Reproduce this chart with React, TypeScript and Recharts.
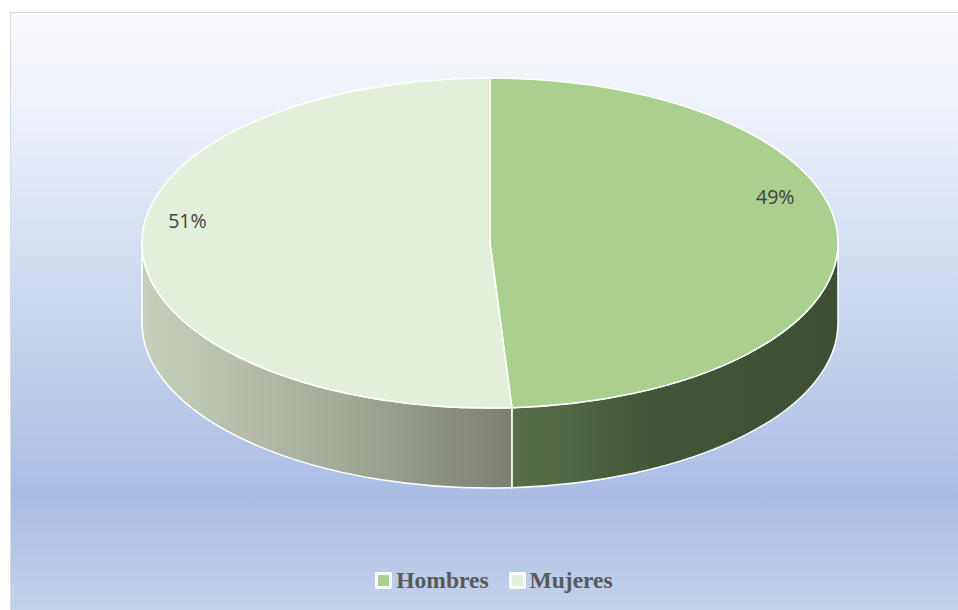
import { Legend, Pie, PieChart } from "recharts";

const categories = ["Hombres", "Mujeres"];
const values = [49, 51];
const topColors = ["#a9d08e", "#e2efda"];

const data = categories.map((name, i) => ({ name, value: values[i], fill: topColors[i] }));

const W = 958;
const H = 610;
const CX = 490;
const CY = 243;
const RX = 348;
const RATIO = 165 / 348;
const DEPTH = 80;

const rad = (a: number) => (a * Math.PI) / 180;
const px = (cx: number, r: number, a: number) => cx + r * Math.cos(rad(a));
const py = (cy: number, r: number, a: number) => cy - r * RATIO * Math.sin(rad(a));

function TopSlice(props: any) {
  const { cx, cy, outerRadius: r, startAngle, endAngle, fill } = props;
  const ry = r * RATIO;
  const large = Math.abs(endAngle - startAngle) > 180 ? 1 : 0;
  const sweep = endAngle < startAngle ? 1 : 0;
  const d = `M${cx},${cy} L${px(cx, r, startAngle)},${py(cy, r, startAngle)} A${r},${ry} 0 ${large} ${sweep} ${px(cx, r, endAngle)},${py(cy, r, endAngle)} Z`;
  return <path d={d} fill={fill} stroke="#ffffff" strokeWidth={1.5} strokeLinejoin="round" />;
}

// side wall, only the front half (-180..0 degrees) is visible
function SideSlice(props: any) {
  const { cx, cy, outerRadius: r, startAngle, endAngle, index } = props;
  const ry = r * RATIO;
  const a = Math.max(startAngle, endAngle);
  const b = Math.min(startAngle, endAngle);
  const hi = Math.min(a, 0);
  const lo = Math.max(b, -180);
  if (hi <= lo) return null;
  const x1 = px(cx, r, hi);
  const y1 = py(cy, r, hi);
  const x2 = px(cx, r, lo);
  const y2 = py(cy, r, lo);
  const d = `M${x1},${y1} A${r},${ry} 0 0 1 ${x2},${y2} L${x2},${y2 + DEPTH} A${r},${ry} 0 0 0 ${x1},${y1 + DEPTH} Z`;
  return <path d={d} fill={`url(#side${index})`} stroke="#ffffff" strokeWidth={1.5} strokeLinejoin="round" />;
}

function renderLabel(props: any) {
  const { cx, cy, outerRadius: r, midAngle, percent } = props;
  const c = Math.cos(rad(midAngle));
  const k = 0.845 - 0.025 * c;
  const x = px(cx, r * k, midAngle);
  const y = py(cy, r * k, midAngle) - 34.5 - 7.5 * c;
  return (
    <text x={x} y={y} textAnchor="middle" dominantBaseline="central" fill="#404040" fontSize={19.5} fontFamily="'Open Sans', sans-serif">
      {`${Math.round(percent * 100)}%`}
    </text>
  );
}

function LegendContent() {
  return (
    <div style={{ display: "flex", justifyContent: "center", gap: 20, marginLeft: 30 }}>
      {data.map((d) => (
        <div key={d.name} style={{ display: "flex", alignItems: "center", gap: 4 }}>
          <span style={{ width: 11, height: 11, background: d.fill, border: "3px solid #ffffff", borderRadius: 2, display: "inline-block" }} />
          <span style={{ fontFamily: "'Liberation Serif', 'Times New Roman', serif", fontWeight: "bold", fontSize: 23.5, color: "#595959" }}>{d.name}</span>
        </div>
      ))}
    </div>
  );
}

export default function App() {
  return (
    <div style={{ position: "absolute", left: 0, top: 0, width: W, height: H, background: "#ffffff", overflow: "hidden" }}>
      <div
        style={{
          position: "absolute",
          left: 10,
          top: 12,
          width: W - 10,
          height: H - 12,
          border: "1px solid #d9d9d9",
          background: "linear-gradient(to bottom, #f9fafd 0%, #eef2fa 15%, #a9bde4 81%, #c3d2ec 100%)",
        }}
      />
      <div style={{ position: "absolute", left: 0, top: 0 }}>
        <PieChart width={W} height={H} margin={{ top: 0, right: 0, bottom: 0, left: 0 }}>
          <defs>
            <linearGradient id="side0" gradientUnits="userSpaceOnUse" x1={510} y1={0} x2={838} y2={0}>
              <stop offset="0%" stopColor="#5a7049" />
              <stop offset="45%" stopColor="#435637" />
              <stop offset="100%" stopColor="#3e4f34" />
            </linearGradient>
            <linearGradient id="side1" gradientUnits="userSpaceOnUse" x1={142} y1={0} x2={510} y2={0}>
              <stop offset="0%" stopColor="#c6d0bb" />
              <stop offset="50%" stopColor="#a6ae9b" />
              <stop offset="100%" stopColor="#7c8073" />
            </linearGradient>
          </defs>
          <Pie
            data={data}
            dataKey="value"
            nameKey="name"
            cx={CX}
            cy={CY}
            outerRadius={RX}
            startAngle={90}
            endAngle={-270}
            shape={SideSlice}
            stroke="none"
            isAnimationActive={false}
            legendType="none"
          />
          <Pie
            data={data}
            dataKey="value"
            nameKey="name"
            cx={CX}
            cy={CY}
            outerRadius={RX}
            startAngle={90}
            endAngle={-270}
            shape={TopSlice}
            label={renderLabel}
            labelLine={false}
            isAnimationActive={false}
          />
          <Legend verticalAlign="bottom" content={LegendContent} wrapperStyle={{ bottom: 16 }} />
        </PieChart>
      </div>
    </div>
  );
}
